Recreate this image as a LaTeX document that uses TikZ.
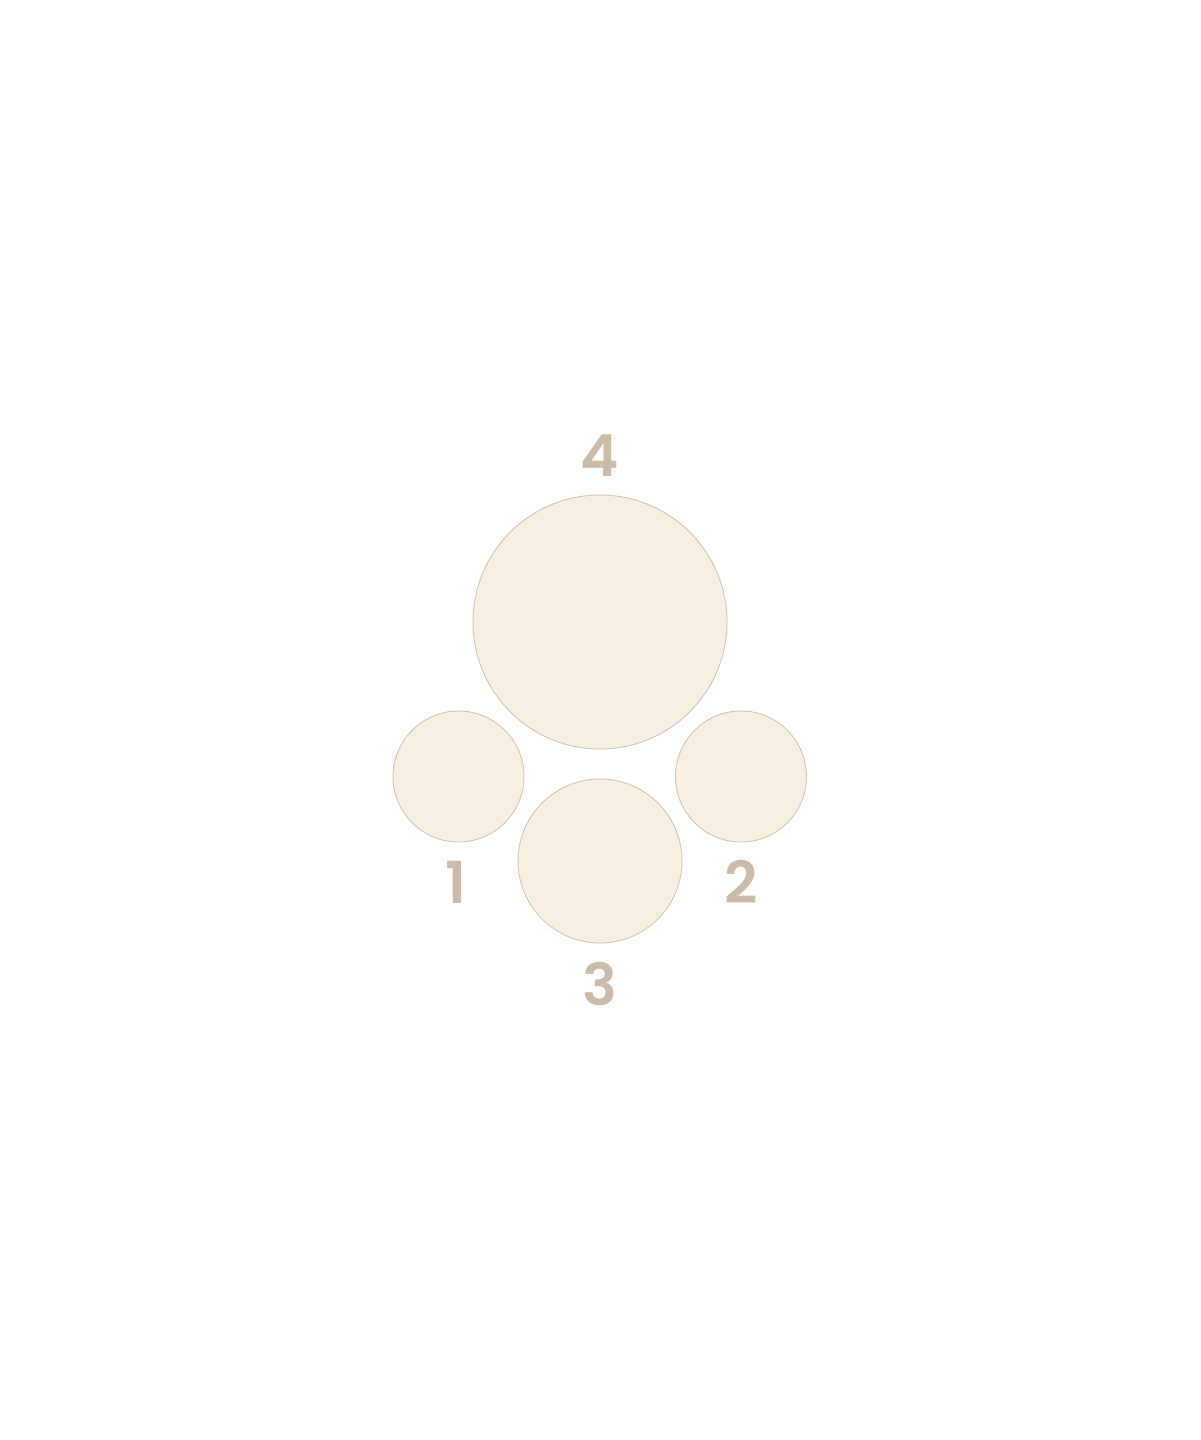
\documentclass[tikz,border=0pt]{standalone}
\usepackage{fontspec}
\setmainfont{Poppins}[BoldFont={Poppins SemiBold}]
\definecolor{cfill}{HTML}{F7EFE2}
\definecolor{cline}{HTML}{D6C2AE}
\definecolor{ctext}{HTML}{CDBBA9}
\begin{document}
\begin{tikzpicture}[x=1pt,y=-1pt,
  seat/.style={circle,draw=cline,fill=cfill,line width=0.9pt,inner sep=0pt},
  lbl/.style={text=ctext,font=\fontsize{58}{58}\selectfont\bfseries,inner sep=0pt}]
\useasboundingbox[fill=white] (0,0) rectangle (1200,1440);
\node[seat,minimum size=254pt] (c4) at (600,622) {};
\node[seat,minimum size=131pt] (c1) at (458.5,776.5) {};
\node[seat,minimum size=131pt] (c2) at (741,776.5) {};
\node[seat,minimum size=164pt] (c3) at (600,861) {};
\node[lbl] (l4) at (600,456) {4};
\node[lbl] (l1) at (456,882) {1};
\node[lbl] (l2) at (741,882) {2};
\node[lbl] (l3) at (600,984) {3};
\end{tikzpicture}
\end{document}
